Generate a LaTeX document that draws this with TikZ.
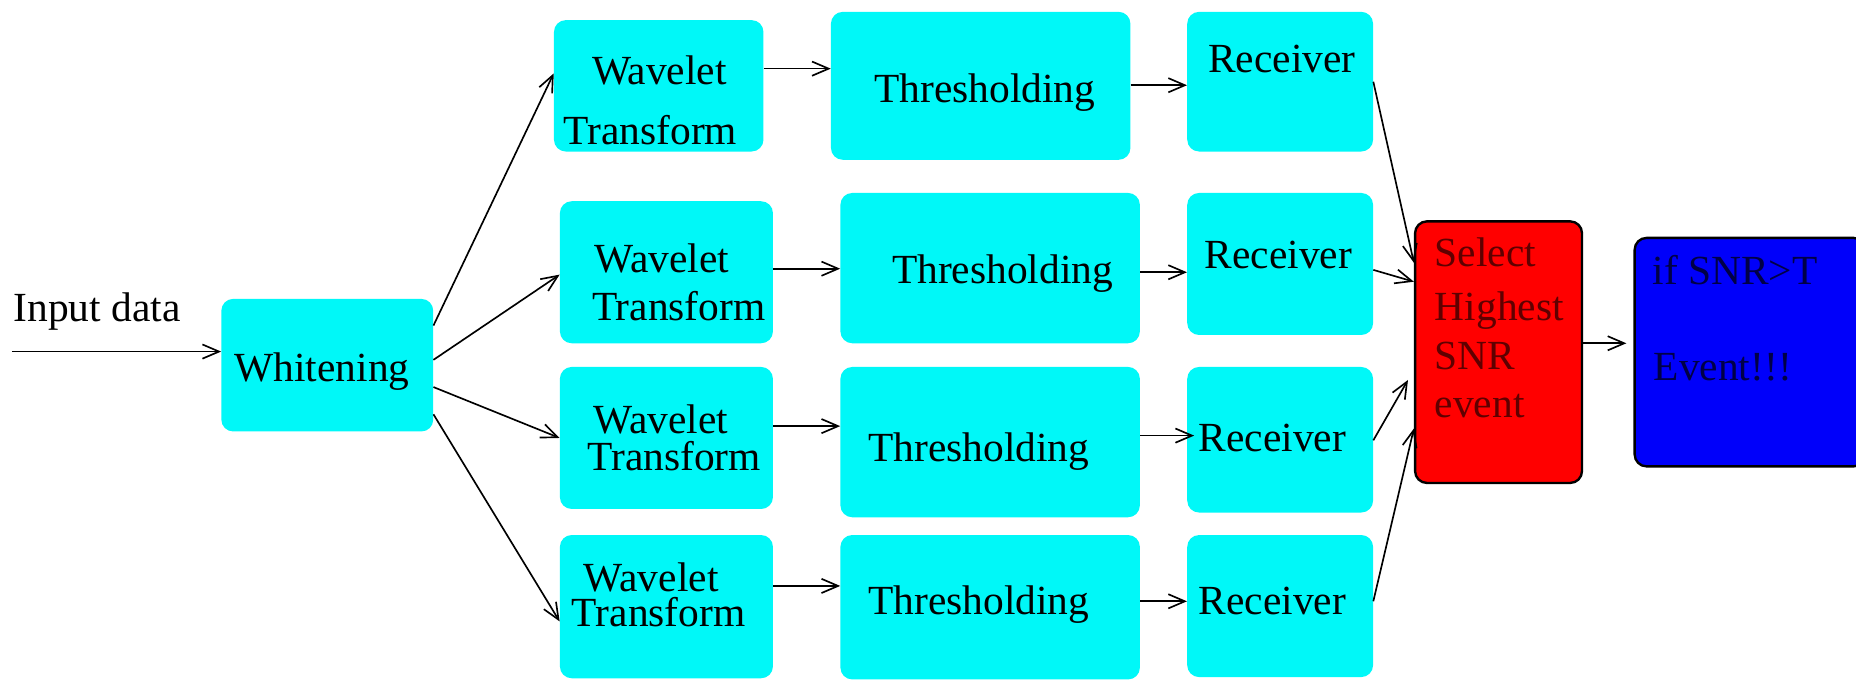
\documentclass[tikz,border=0pt]{standalone}
\usepackage{fontspec}
\setmainfont{Liberation Serif}
\usetikzlibrary{arrows.meta}
\definecolor{cyanbox}{RGB}{0,248,248}
\definecolor{redbox}{RGB}{255,0,0}
\definecolor{bluebox}{RGB}{0,0,250}
\definecolor{redtext}{RGB}{95,0,0}
\definecolor{bluetext}{RGB}{0,0,70}
\tikzset{
  box/.style={fill=cyanbox, rounded corners=10pt, inner sep=0pt},
  hotbox/.style={draw=black, line width=2pt, rounded corners=10pt, inner sep=0pt},
  lbl/.style={font=\fontsize{35}{40}\selectfont, inner sep=0pt, text height=23pt, text depth=0pt},
  lbltwo/.style={font=\fontsize{35}{40}\selectfont, inner sep=0pt, align=left, anchor=north west},
  arr/.style={line width=1.4pt, -{Straight Barb[length=14pt, width=12pt, line width=1.4pt]}},
}
\begin{document}
\begin{tikzpicture}[x=1pt,y=-1pt]
\useasboundingbox (0,0) rectangle (1568,574);
\begin{scope}
\clip (0,0) rectangle (1568,574);
% boxes
\node[box, minimum width=179pt, minimum height=112pt] (wh) at (276.5,308.5) {};
\node[box, minimum width=177pt, minimum height=111pt] (w1) at (556.5,72.5) {};
\node[box, minimum width=253pt, minimum height=125pt] (t1) at (828.5,72.5) {};
\node[box, minimum width=157pt, minimum height=118pt] (r1) at (1081.5,69) {};
\node[box, minimum width=180pt, minimum height=120pt] (w2) at (563,230) {};
\node[box, minimum width=253pt, minimum height=127pt] (t2) at (836.5,226.5) {};
\node[box, minimum width=157pt, minimum height=120pt] (r2) at (1081.5,223) {};
\node[box, minimum width=180pt, minimum height=120pt] (w3) at (563,370) {};
\node[box, minimum width=253pt, minimum height=127pt] (t3) at (836.5,373.5) {};
\node[box, minimum width=157pt, minimum height=123pt] (r3) at (1081.5,371.5) {};
\node[box, minimum width=180pt, minimum height=121pt] (w4) at (563,512.5) {};
\node[box, minimum width=253pt, minimum height=122pt] (t4) at (836.5,513) {};
\node[box, minimum width=157pt, minimum height=120pt] (r4) at (1081.5,512) {};
\node[hotbox, fill=redbox, minimum width=141pt, minimum height=221pt] (sel) at (1266,297.5) {};
\node[hotbox, fill=bluebox, minimum width=195pt, minimum height=193pt] (ev) at (1478.5,297.5) {};
% labels
\node[lbl] (inlbl) at (82,260) {Input data};
\node[lbl] (whl) at (272,311) {Whitening};
\node[lbltwo] (w1l) at (476,47) {\hspace*{24pt}Wavelet\\[11pt]Transform};
\node[lbltwo] (w2l) at (500,206) {\hspace*{2pt}Wavelet\\[0pt]Transform};
\node[lbltwo] (w3l) at (496,342) {\hspace*{5pt}Wavelet\\[-9pt]Transform};
\node[lbltwo] (w4l) at (483,475) {\hspace*{10pt}Wavelet\\[-10pt]Transform};
\node[lbl] (t1l) at (832,75) {Thresholding};
\node[lbl] (t2l) at (847,228) {Thresholding};
\node[lbl] (t3l) at (827,378) {Thresholding};
\node[lbl] (t4l) at (827,508) {Thresholding};
\node[lbl] (r1l) at (1083,50) {Receiver};
\node[lbl] (r2l) at (1080,215) {Receiver};
\node[lbl] (r3l) at (1075,370) {Receiver};
\node[lbl] (r4l) at (1075,508) {Receiver};
\node[lbl, anchor=west, text=redtext] (s1) at (1212,214) {Select};
\node[lbl, anchor=west, text=redtext] (s2) at (1212,259) {Highest};
\node[lbl, anchor=west, text=redtext] (s3) at (1212,301) {SNR};
\node[lbl, anchor=west, text=redtext] (s4) at (1212,341) {event};
\node[lbl, anchor=west, text=bluetext] (e1) at (1396,229) {if SNR>T};
\node[lbl, anchor=west, text=bluetext] (e2) at (1397,310) {Event!!!};
\end{scope}
% connectors
\coordinate (in0) at (10,297);
\draw[arr] (in0) -- (wh.west |- in0);
\draw[arr] (wh.east |- 0,275) -- (w1.west |- 0,62);
\draw[arr] (wh.east |- 0,304) -- (w2.west |- 0,232);
\draw[arr] (wh.east |- 0,327) -- (w3.west |- 0,370);
\draw[arr] (wh.east |- 0,350) -- (w4.west |- 0,525);
\draw[arr] (w1.east |- 0,58) -- (t1.west |- 0,58);
\draw[arr] (w2.east |- 0,227) -- (t2.west |- 0,227);
\draw[arr] (w3.east |- 0,360) -- (t3.west |- 0,360);
\draw[arr] (w4.east |- 0,495) -- (t4.west |- 0,495);
\draw[arr] (t1.east |- 0,72) -- (r1.west |- 0,72);
\draw[arr] (t2.east |- 0,230) -- (r2.west |- 0,230);
\draw[arr] (t3.east |- 0,368) -- ([xshift=6pt]r3.west |- 0,368);
\draw[arr] (t4.east |- 0,508) -- (r4.west |- 0,508);
\draw[arr] (r1.east |- 0,69) -- (sel.west |- 0,222);
\draw[arr] (r2.east |- 0,228) -- (sel.west |- 0,238);
\draw[arr] (r3.east |- 0,372) -- ([xshift=-5pt]sel.west |- 0,321);
\draw[arr] (r4.east |- 0,508) -- (sel.west |- 0,362);
\draw[arr] (sel.east |- 0,290) -- ([xshift=-6pt]ev.west |- 0,290);
\end{tikzpicture}
\end{document}
